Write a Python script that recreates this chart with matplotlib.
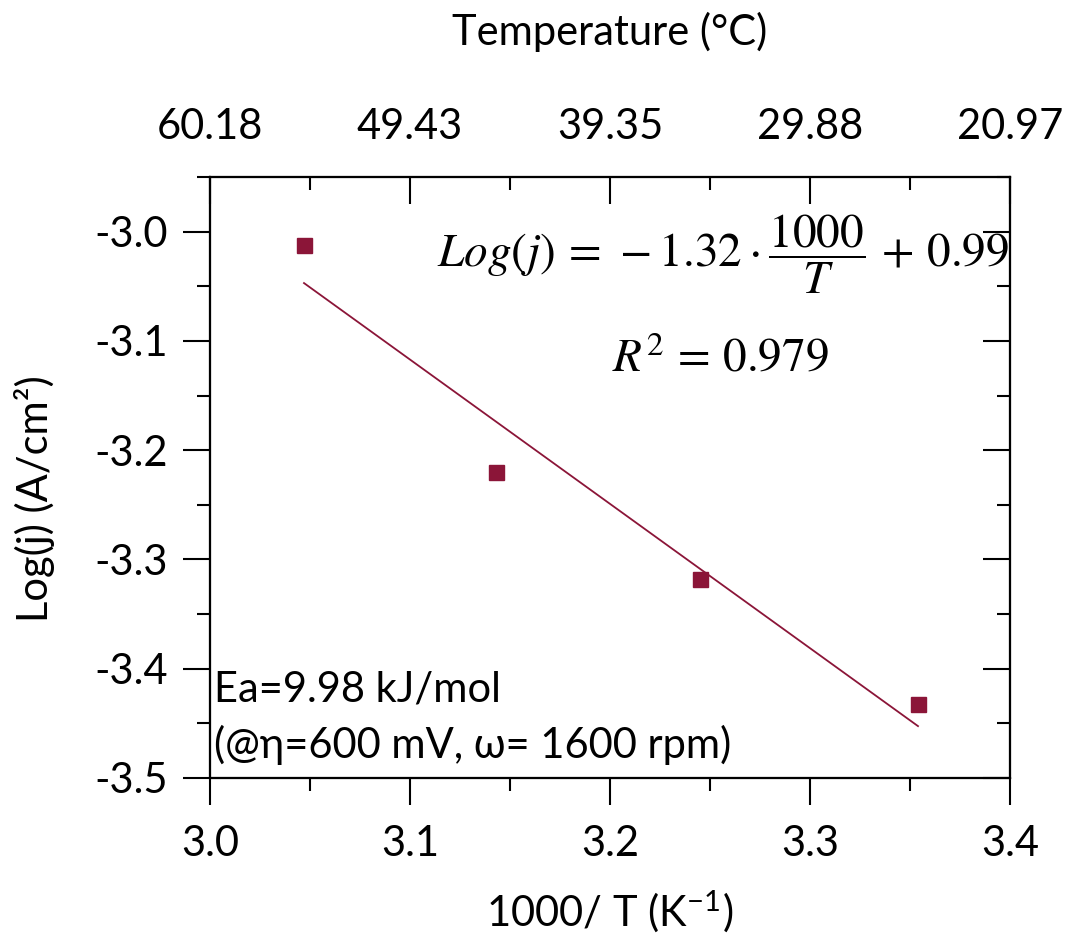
import numpy as np
import matplotlib
matplotlib.use("Agg")
import matplotlib.pyplot as plt
from matplotlib.ticker import MultipleLocator

# Data
inv_T = [3.047, 3.143, 3.245, 3.354]          # 1000/T (K^-1)
log_j = [-3.012, -3.220, -3.318, -3.432]      # Log(j) (A/cm^2)
x_ticks = [3.0, 3.1, 3.2, 3.3, 3.4]
y_ticks = [-3.5, -3.4, -3.3, -3.2, -3.1, -3.0]
top_labels = ["60.18", "49.43", "39.35", "29.88", "20.97"]

color = "#8B1538"
font = ["Lato", "DejaVu Sans"]
fs = 30

plt.rcParams["font.family"] = font
plt.rcParams["mathtext.fontset"] = "stix"

fig = plt.figure(figsize=(10.69, 9.38), dpi=100)
ax = fig.add_axes([210/1069, 1-778/938, 800/1069, 601/938])

ax.plot(inv_T, log_j, "s", color=color, markersize=10.8, zorder=3)
slope, intercept = np.polyfit(inv_T, log_j, 1)
xf = np.array([min(inv_T), max(inv_T)])
ax.plot(xf, slope*xf + intercept, "-", color=color, lw=1.3)

ax.set_xlim(3.0, 3.4)
ax.set_ylim(-3.5, -2.95)
ax.set_xticks(x_ticks)
ax.set_xticklabels([f"{v:.1f}" for v in x_ticks])
ax.set_yticks(y_ticks)
ax.set_yticklabels([f"{v:.1f}" for v in y_ticks])
ax.xaxis.set_minor_locator(MultipleLocator(0.05))
ax.yaxis.set_minor_locator(MultipleLocator(0.05))
for s in ax.spines.values():
    s.set_linewidth(1.5)
ax.tick_params(which="major", direction="out", length=19.5, width=1.5, labelsize=fs)
ax.tick_params(which="minor", direction="out", length=9.5, width=1.5)
ax.tick_params(axis="x", which="major", pad=14)
ax.tick_params(axis="y", which="major", pad=11)

# top axis
axt = ax.twiny()
axt.set_xlim(ax.get_xlim())
axt.set_xticks(x_ticks)
axt.set_xticklabels(top_labels)
axt.xaxis.set_minor_locator(MultipleLocator(0.05))
axt.tick_params(which="major", direction="in", length=19.5, width=1.5, labelsize=fs, pad=22)
axt.tick_params(which="minor", direction="in", length=9.5, width=1.5)

# right axis
axr = ax.twinx()
axr.set_ylim(ax.get_ylim())
axr.set_yticks(y_ticks)
axr.yaxis.set_minor_locator(MultipleLocator(0.05))
axr.tick_params(which="major", direction="in", length=19.5, width=1.5, labelright=False)
axr.tick_params(which="minor", direction="in", length=9.5, width=1.5)
for a in (axt, axr):
    for s in a.spines.values():
        s.set_linewidth(1.5)

fig.text(610/1069, 1-32/938, "Temperature (°C)", ha="center", va="center", fontsize=fs)
fig.text(610/1069, 1-912/938, r"1000/ T (K$^{\mathregular{-1}}$)", ha="center", va="center", fontsize=fs)
fig.text(35/1069, 1-499/938, "Log(j) (A/cm²)", ha="center", va="center", rotation=90, fontsize=fs)

ax.text(0.641, 0.872, r"$Log(j)\,=\,-1.32\cdot\dfrac{1000}{T}\,+\,0.99$", transform=ax.transAxes,
        ha="center", va="center", fontsize=34)
ax.text(0.6375, 0.700, r"$R^2\,=\,0.979$", transform=ax.transAxes,
        ha="center", va="center", fontsize=34)
ax.text(0.005, 0.147, "Ea=9.98 kJ/mol", transform=ax.transAxes, ha="left", va="center", fontsize=fs)
ax.text(0.005, 0.055, "(@η=600 mV, ω= 1600 rpm)", transform=ax.transAxes, ha="left", va="center", fontsize=fs)

fig.savefig("out.png", dpi=100)
